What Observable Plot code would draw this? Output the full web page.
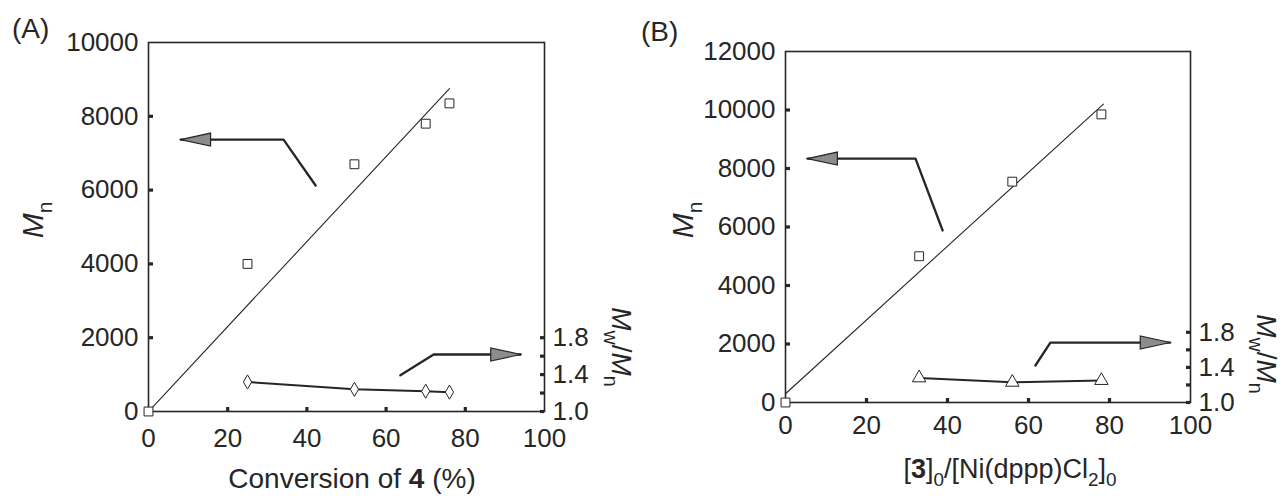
<!DOCTYPE html>
<html><head><meta charset="utf-8">
<script src="https://cdn.jsdelivr.net/npm/d3@7"></script>
<script src="https://cdn.jsdelivr.net/npm/@observablehq/plot@0.6"></script>
<style>
body{margin:0;background:#fff;}
#wrap{display:flex;width:1282px;height:496px;overflow:hidden;}
#wrap svg{overflow:visible;flex:none;}
</style></head><body><div id="wrap"></div>
<script>
// ---------- Panel A data ----------
const convA = [0, 25, 52, 70, 76];
const mnA = [0, 4000, 6700, 7800, 8350];
const fitXA = [0, 76];
const fitYA = [0, 8750];
const pdiConvA = [25, 52, 70, 76];
const pdiA = [1.32, 1.24, 1.22, 1.21];
const arrowLeftXA = [42.2, 34.1, 8.1];
const arrowLeftYA = [6125, 7370, 7370];
const arrowRightXA = [63.6, 72, 94];
const arrowRightYA = [980, 1545, 1545];
const yTicksA = [0, 2000, 4000, 6000, 8000, 10000];

// ---------- Panel B data ----------
const ratioB = [0, 33, 56, 78];
const mnB = [0, 5000, 7550, 9850];
const fitXB = [0, 78.5];
const fitYB = [300, 10200];
const pdiRatioB = [33, 56, 78];
const pdiB = [1.28, 1.23, 1.25];
const arrowLeftXB = [38.8, 32.1, 5.4];
const arrowLeftYB = [5880, 8340, 8340];
const arrowRightXB = [61.7, 65.4, 95];
const arrowRightYB = [1265, 2050, 2050];
const yTicksB = [0, 2000, 4000, 6000, 8000, 10000, 12000];

// ---------- shared ----------
const xTicks = [0, 20, 40, 60, 80, 100];
const pdiTicks = [1.0, 1.2, 1.4, 1.6, 1.8];
const pdiTickLabels = [1.0, 1.4, 1.8];
const pdiDomain = [1, 5];

const FONT = "Liberation Sans, Arial, sans-serif";
const INK = "#262626";

const headLeft = {draw(c){ c.moveTo(0,0); c.lineTo(30,-6.5); c.lineTo(30,6.5); c.closePath(); }};
const headRight = {draw(c){ c.moveTo(0,0); c.lineTo(-30,-6.5); c.lineTo(-30,6.5); c.closePath(); }};
const tickBottom = {draw(c){ c.rect(-1.6, -4.5, 3.2, 4); }};
const tickLeft = {draw(c){ c.rect(0.5, -1.6, 4, 3.2); }};
const tickRight = {draw(c){ c.rect(-4.5, -1.6, 4, 3.2); }};

function panel(o) {
  const toMn = d3.scaleLinear().domain(pdiDomain).range(o.yDomain);
  const pdiY = o.pdi.map(toMn);
  const inner = a => a.slice(1, -1);
  return Plot.plot({
    width: 641, height: 496,
    marginLeft: o.ml, marginRight: o.mr, marginTop: o.mt, marginBottom: o.mb,
    style: {fontFamily: FONT, fontSize: "26px", color: INK, background: "transparent", overflow: "visible"},
    x: {domain: [0, 100]},
    y: {domain: o.yDomain},
    marks: [
      Plot.frame({stroke: INK, strokeWidth: 1.6}),
      Plot.axisX(xTicks, {tickSize: 0, tickPadding: o.xPad, label: null, tickFormat: d => `${d}`}),
      Plot.axisY(o.yTicks, {anchor: "left", tickSize: 0, tickPadding: 10, label: null, tickFormat: d => `${d}`}),
      Plot.axisY(pdiTickLabels.map(toMn), {anchor: "right", tickSize: 0, tickPadding: 8, label: null,
        tickFormat: d => toMn.invert(d).toFixed(1)}),
      // small inward tick marks
      Plot.dot(inner(xTicks), {x: d => d, frameAnchor: "bottom", symbol: tickBottom, fill: INK, stroke: null}),
      Plot.dot(inner(o.yTicks), {y: d => d, frameAnchor: "left", symbol: tickLeft, fill: INK, stroke: null}),
      Plot.dot(pdiTicks.map(toMn), {y: d => d, frameAnchor: "right", symbol: tickRight, fill: INK, stroke: null}),
      // fit line
      Plot.line(o.fitX, {x: o.fitX, y: o.fitY, stroke: INK, strokeWidth: 1.1}),
      // Mw/Mn connecting line
      Plot.line(pdiY, {x: o.pdiX, y: pdiY, stroke: INK, strokeWidth: 2}),
      // arrows
      Plot.line(o.alX, {x: o.alX, y: o.alY, stroke: INK, strokeWidth: 2.3}),
      Plot.line(o.arX, {x: o.arX, y: o.arY, stroke: INK, strokeWidth: 2.3}),
      Plot.dot([0], {x: () => o.alX[o.alX.length-1], y: () => o.alY[o.alY.length-1], symbol: headLeft, fill: "#8c8c8c", stroke: INK, strokeWidth: 1.2}),
      Plot.dot([0], {x: () => o.arX[o.arX.length-1], y: () => o.arY[o.arY.length-1], symbol: headRight, fill: "#8c8c8c", stroke: INK, strokeWidth: 1.2}),
      // Mn points
      Plot.dot(o.mn, {x: o.mnX, y: o.mn, symbol: "square", r: 5, fill: "white", stroke: INK, strokeWidth: 1}),
      // Mw/Mn points
      Plot.dot(pdiY, {x: o.pdiX, y: pdiY, symbol: o.pdiSymbol, r: o.pdiR, fill: "white", stroke: INK, strokeWidth: 1})
    ]
  });
}

function rich(svg, x, y, rot, size, parts, anchor = "middle") {
  const t = d3.select(svg).append("text")
    .attr("transform", `translate(${x},${y}) rotate(${rot})`)
    .attr("text-anchor", anchor).attr("font-size", size)
    .attr("font-family", FONT).attr("fill", INK);
  let shift = 0;
  for (const p of parts) {
    const s = t.append("tspan").text(p.t);
    const target = p.sub ? size * 0.3 : 0;
    if (target !== shift) { s.attr("dy", target - shift); shift = target; }
    if (p.sub) s.attr("font-size", size * 0.7);
    if (p.i) s.attr("font-style", "italic");
    if (p.b) s.attr("font-weight", "bold");
  }
}

const wrap = document.getElementById("wrap");

const svgA = panel({
  ml: 148, mr: 97, mt: 42, mb: 85, xPad: 17,
  yDomain: [0, 10000], yTicks: yTicksA,
  mnX: convA, mn: mnA, fitX: fitXA, fitY: fitYA,
  pdiX: pdiConvA, pdi: pdiA, pdiSymbol: "diamond", pdiR: 4.3,
  alX: arrowLeftXA, alY: arrowLeftYA, arX: arrowRightXA, arY: arrowRightYA
});
wrap.appendChild(svgA);
rich(svgA, 12, 38, 0, 28, [{t: "(A)"}], "start");
rich(svgA, 43, 220, -90, 30, [{t: "M", i: true}, {t: "n", sub: true}]);
rich(svgA, 612, 347, 90, 28, [{t: "M", i: true}, {t: "w", sub: true}, {t: "/"}, {t: "M", i: true}, {t: "n", sub: true}]);
rich(svgA, 352, 488, 0, 28, [{t: "Conversion of "}, {t: "4", b: true}, {t: " (%)"}]);

const svgB = panel({
  ml: 144, mr: 92, mt: 51, mb: 94, xPad: 13,
  yDomain: [0, 12000], yTicks: yTicksB,
  mnX: ratioB, mn: mnB, fitX: fitXB, fitY: fitYB,
  pdiX: pdiRatioB, pdi: pdiB, pdiSymbol: "triangle", pdiR: 5,
  alX: arrowLeftXB, alY: arrowLeftYB, arX: arrowRightXB, arY: arrowRightYB
});
wrap.appendChild(svgB);
rich(svgB, 0, 41, 0, 28, [{t: "(B)"}], "start");
rich(svgB, 52, 220, -90, 30, [{t: "M", i: true}, {t: "n", sub: true}]);
rich(svgB, 616, 354, 90, 28, [{t: "M", i: true}, {t: "w", sub: true}, {t: "/"}, {t: "M", i: true}, {t: "n", sub: true}]);
rich(svgB, 369, 478, 0, 27, [{t: "["}, {t: "3", b: true}, {t: "]"}, {t: "0", sub: true}, {t: "/[Ni(dppp)Cl"}, {t: "2", sub: true}, {t: "]"}, {t: "0", sub: true}]);
</script></body></html>
